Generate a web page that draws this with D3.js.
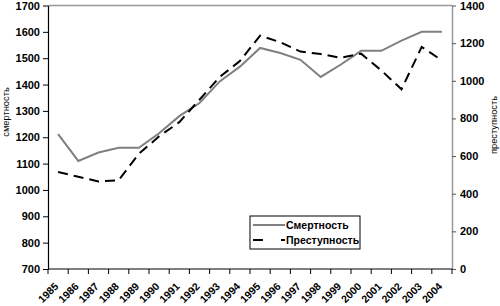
<!DOCTYPE html>
<html lang="ru">
<head>
<meta charset="UTF-8">
<title>Смертность и преступность</title>
<script src="https://cdn.jsdelivr.net/npm/d3@7"></script>
<style>
  body { margin: 0; background: #fff; }
  svg text { font-family: "Liberation Sans", Arial, sans-serif; }
</style>
</head>
<body>
<script>
// data
var years = ["1985","1986","1987","1988","1989","1990","1991","1992","1993","1994",
             "1995","1996","1997","1998","1999","2000","2001","2002","2003","2004"];
var mortality = [1212,1110,1142,1160,1160,1215,1280,1330,1412,1468,
                 1539,1520,1494,1429,1476,1528,1528,1567,1600,1600];
var crime = [515,490,465,472,612,705,780,900,1020,1105,
             1240,1205,1155,1142,1122,1144,1055,955,1180,1108];
var leftTicks = [700,800,900,1000,1100,1200,1300,1400,1500,1600,1700];
var rightTicks = [0,200,400,600,800,1000,1200,1400];

var w = 500, h = 306;
var pLeft = 48, pRight = 452, pTop = 5.5, pBottom = 269;
var fnt = "Liberation Sans, Arial, sans-serif";

var svg = d3.select("body").append("svg")
  .attr("width", w).attr("height", h);

var x = d3.scaleBand().domain(years).range([pLeft, pRight]);
var yL = d3.scaleLinear().domain([700, 1700]).range([pBottom, pTop]);
var yR = d3.scaleLinear().domain([0, 1400]).range([pBottom, pTop]);

// top border of the plot area
svg.append("line")
  .attr("x1", pLeft).attr("x2", pRight)
  .attr("y1", pTop).attr("y2", pTop)
  .attr("stroke", "#999").attr("stroke-width", 1.5);

// left axis
var gL = svg.append("g")
  .attr("transform", "translate(" + pLeft + ",0)")
  .call(d3.axisLeft(yL).tickValues(leftTicks).tickFormat(d3.format("d"))
    .tickSize(5).tickPadding(3).tickSizeOuter(0));
gL.select(".domain").attr("stroke", "#000").attr("stroke-width", 1.2);
gL.selectAll(".tick line").attr("stroke", "#000");
gL.selectAll("text").attr("font-size", 11).attr("font-weight", "bold").attr("fill", "#000")
  .attr("font-family", fnt);

// right axis
var gR = svg.append("g")
  .attr("transform", "translate(" + pRight + ",0)")
  .call(d3.axisRight(yR).tickValues(rightTicks).tickFormat(d3.format("d"))
    .tickSize(4).tickPadding(4).tickSizeOuter(0));
gR.select(".domain").attr("stroke", "#999").attr("stroke-width", 1.5);
gR.selectAll(".tick line").attr("stroke", "#555");
gR.selectAll("text").attr("font-size", 11).attr("font-weight", "bold").attr("fill", "#000")
  .attr("font-family", fnt);

// bottom axis: ticks at band edges, labels rotated
var edges = years.map(function(d) { return x(d); }).concat([pRight]);
var gB = svg.append("g");
gB.append("line")
  .attr("x1", pLeft).attr("x2", pRight)
  .attr("y1", pBottom).attr("y2", pBottom)
  .attr("stroke", "#000").attr("stroke-width", 1.2);
gB.selectAll("line.tk").data(edges).enter().append("line")
  .attr("class", "tk")
  .attr("x1", function(d) { return d; }).attr("x2", function(d) { return d; })
  .attr("y1", pBottom).attr("y2", pBottom + 5)
  .attr("stroke", "#000");
gB.selectAll("text").data(years).enter().append("text")
  .attr("transform", function(d) {
    return "translate(" + (x(d) + x.bandwidth() / 2 + 1) + "," + (pBottom + 18) + ") rotate(-45)";
  })
  .attr("text-anchor", "end")
  .attr("font-size", 10.5).attr("font-weight", "bold")
  .text(function(d) { return d; });

// axis titles
svg.append("text")
  .attr("transform", "translate(9,112) rotate(-90)")
  .attr("text-anchor", "middle")
  .attr("font-size", 9.3)
  .text("смертность");
svg.append("text")
  .attr("transform", "translate(497,125) rotate(-90)")
  .attr("text-anchor", "middle")
  .attr("font-size", 9.3)
  .text("преступность");

var cx = function(i) { return x(years[i]) + x.bandwidth() / 2; };

// lines
var lineM = d3.line().x(function(d, i) { return cx(i); }).y(function(d) { return yL(d); });
var lineC = d3.line().x(function(d, i) { return cx(i); }).y(function(d) { return yR(d); });

svg.append("path").datum(mortality)
  .attr("d", lineM).attr("fill", "none")
  .attr("stroke", "#808080").attr("stroke-width", 2);

svg.append("path").datum(crime)
  .attr("d", lineC).attr("fill", "none")
  .attr("stroke", "#000").attr("stroke-width", 2)
  .attr("stroke-dasharray", "10,6");

// legend
var lg = svg.append("g").attr("transform", "translate(250,216)");
lg.append("rect")
  .attr("width", 110).attr("height", 33)
  .attr("fill", "#fff").attr("stroke", "#000").attr("stroke-width", 1);
lg.append("line")
  .attr("x1", 3).attr("x2", 35).attr("y1", 9).attr("y2", 9)
  .attr("stroke", "#808080").attr("stroke-width", 2);
lg.append("line")
  .attr("x1", 3).attr("x2", 35).attr("y1", 24).attr("y2", 24)
  .attr("stroke", "#000").attr("stroke-width", 2)
  .attr("stroke-dasharray", "10,18,4");
lg.append("text").attr("x", 36).attr("y", 13)
  .attr("font-size", 10.5).attr("font-weight", "bold").text("Смертность");
lg.append("text").attr("x", 36).attr("y", 28)
  .attr("font-size", 10.5).attr("font-weight", "bold").text("Преступность");
</script>
</body>
</html>
